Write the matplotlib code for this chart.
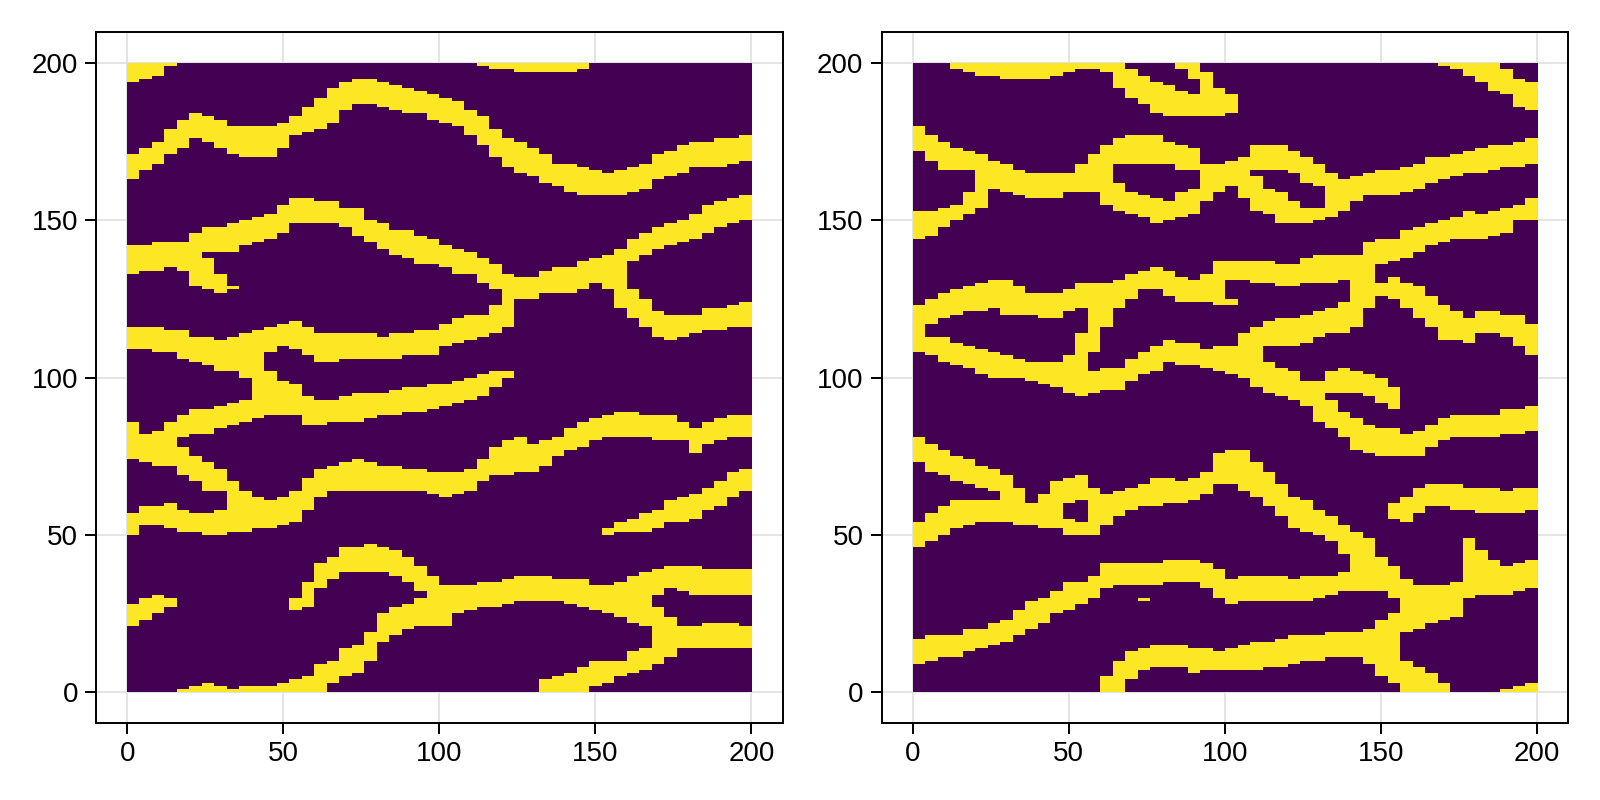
import numpy as np
import matplotlib
matplotlib.use("Agg")
import matplotlib.pyplot as plt

plt.rcParams["font.family"] = ["Liberation Sans", "DejaVu Sans"]

# =========================
# DATA
# yellow runs, one (top, bottom) per 4-wide column
# first number of each entry is the x of the first column
# =========================

tick_values = [0, 50, 100, 150, 200]
col_width = 4
n_rows = 200

left_corner = (0, [(200,194),(200,195),(200,196),(200,199)])
left_upper = (0, [(171,163),(173,166),(175,168),(179,171),(182,173),(184,176),(183,175),(182,173),(180,171),(180,170),(180,170),(180,170),(181,173),(183,177),(186,178),(189,179),(192,181),(194,185),(195,187),(195,187),(194,186),(193,185),(192,184),(191,184),(190,182),(189,181),(188,180),(185,177),(183,174),(179,170),(176,167),(175,165),(173,164),(171,162),(168,161),(168,159),(167,158),(166,158),(165,158),(166,158),(167,159),(168,160),(171,163),(172,164),(174,165),(175,167),(175,167),(176,167),(176,168),(177,169)])
left_top_edge = (112, [(200,199),(200,198),(200,198),(200,197),(200,197),(200,197),(200,197),(200,197),(200,198)])
left_mid = (0, [(142,133),(142,134),(143,134),(143,135),(143,134),(146,129),(148,140),(148,140),(149,140),(150,142),(151,143),(152,144),(155,146),(157,149),(157,149),(156,149),(156,149),(154,148),(154,145),(150,143),(149,141),(147,139),(147,138),(145,136),(144,136),(142,135),(141,133),(140,133),(138,130),(136,128),(133,125),(132,125),(132,125),(134,127),(135,127),(135,127),(137,128),(138,130),(139,128),(141,122),(144,137),(146,139),(148,141),(149,142),(150,143),(152,144),(155,146),(156,148),(157,149),(158,150)])
left_mid_spur = (24, [(138,128),(133,127),(129,128)])
left_mid_branch = (160, [(128,119),(125,116),(121,113),(120,112),(120,113),(120,114),(122,115),(122,115),(123,116),(124,116)])
left_low = (0, [(116,109),(116,109),(116,108),(115,108),(115,106),(113,105),(113,104),(112,102),(113,102),(114,100),(115,95),(116,108),(117,110),(118,109),(116,107),(114,105),(114,105),(114,106),(114,106),(114,106),(113,106),(114,106),(114,107),(115,107),(115,107),(117,110),(119,111),(120,112),(120,113),(123,114),(128,116)])
left_diag = (44, [(102,95),(99,95),(98,96)])
left_wedge = (0, [(86,74),(82,73),(83,72),(86,72)])
left_90 = (16, [(88,81),(90,82),(90,82),(91,84),(92,85),(93,86),(95,87),(95,88),(97,88),(96,88),(94,85),(93,85),(93,86),(94,86),(95,86),(95,87),(95,88),(96,88),(97,89),(97,89),(98,90),(98,91),(99,92),(100,93),(101,94),(102,97),(102,100)])
left_70 = (16, [(78,69),(75,67),(73,64),(71,64)])
left_55 = (0, [(57,50),(59,53),(59,53),(60,52),(58,51),(57,51),(57,50),(58,50),(67,51),(64,51),(62,52),(61,52),(62,53),(64,54),(68,58),(71,62),(72,64),(73,64),(74,64),(73,64),(72,64),(72,64),(71,64),(71,64),(70,63),(70,62),(70,63),(71,64),(74,67),(78,69),(80,69),(81,70),(79,70),(80,72),(81,75),(84,77),(86,78),(87,80),(88,81),(89,81),(89,81),(88,81),(88,80),(88,80),(86,80),(84,76),(86,79),(87,80),(88,81),(88,81)])
left_wedge_right = (152, [(52,50),(54,51),(55,51),(57,51),(58,52),(61,54),(62,54),(63,55),(65,58),(67,59),(70,62),(71,64)])
left_small = (0, [(28,21),(30,23),(31,25),(30,27)])
left_arch = (52, [(30,26),(35,27),(41,33),(43,36),(46,38),(46,38),(47,38),(46,38),(45,37),(43,35),(40,32)])
left_bottom = (16, [(1,0),(2,0),(3,0),(2,0),(1,0),(2,0),(2,0),(2,0),(3,0),(4,0),(5,0),(9,0),(10,3),(14,5),(15,6),(19,10),(25,16),(27,18),(28,20),(30,21)])
left_30 = (96, [(37,21),(34,21),(34,25),(34,26),(35,27),(35,27),(36,28),(37,29),(37,29),(37,29),(36,29),(36,28),(36,27),(34,26),(34,25),(35,24),(37,22),(38,21),(39,31),(40,33),(40,32),(40,31),(39,31),(39,31),(39,31),(39,31)])
left_floor = (132, [(4,0),(5,0),(6,0),(8,0),(10,2),(10,3),(10,5),(13,6),(14,7),(27,9),(24,11),(21,14),(21,14),(22,14),(22,14),(22,14),(21,14)])

right_top = (12, [(200,198),(200,197),(200,196),(200,196),(200,195),(200,195),(200,195),(200,195),(200,196),(200,197),(200,198),(200,198),(200,197),(200,192),(198,189),(196,187),(194,184),(193,183),(191,183),(190,183),(197,183),(192,183),(190,184)])
right_top_inner = (84, [(200,198),(200,195)])
right_top_strip = (168, [(200,199),(200,198),(200,196),(200,194),(200,191),(198,190),(195,186),(194,185)])
right_175 = (0, [(180,172),(177,169),(175,166),(173,166),(172,166),(171,154),(169,160),(168,159),(166,158),(165,157),(165,157),(165,157),(165,159),(168,159),(171,159),(174,155),(176,168),(177,168),(177,168),(177,168),(175,168),(174,166),(173,166),(168,156),(168,159),(169,161),(170,157),(174,166),(174,166),(174,166),(172,165),(170,162),(168,161),(165,151),(163,153),(164,156),(165,158),(166,158),(166,158),(167,159),(168,160),(170,162),(170,163),(171,164),(172,165),(173,165),(174,166),(174,167),(175,167),(176,168)])
right_left_arm = (0, [(153,144),(153,145),(154,148),(155,150),(159,152)])
right_lens_low = (64, [(162,153),(159,152),(158,151),(157,149),(156,150),(159,151),(160,152)])
right_lens2_low = (108, [(164,153),(160,152),(159,149),(156,149),(154,149),(154,150)])
right_130 = (0, [(123,108),(125,117),(127,119),(128,120),(129,121),(130,121),(131,122),(131,120),(129,120),(127,120),(127,119),(127,119),(128,121),(130,122),(130,108),(130,116),(131,122),(133,125),(134,128),(135,128),(134,126),(132,124),(131,124),(133,124),(137,123),(137,131),(137,131),(137,130),(137,130),(136,129),(136,129),(138,130),(139,130),(139,130),(139,131),(139,116),(143,122)])
right_hook = (100, [(125,123)])
right_upper_right = (148, [(144,136),(144,137),(147,138),(148,140),(149,142),(150,143),(151,144),(153,144),(152,144),(153,145),(154,146),(155,150),(157,150)])
right_110 = (4, [(113,107),(113,105),(111,104),(110,103),(109,101),(108,100),(107,100),(106,100),(105,99),(105,98),(105,97),(107,95),(114,94),(102,95),(103,96),(103,96),(106,99),(108,101),(110,102),(112,105),(111,104),(111,104),(109,103),(110,102),(110,101),(114,100),(116,97),(105,95),(103,94),(102,93),(99,91),(99,86),(102,95),(103,95),(102,95),(101,94),(100,92),(97,90)])
right_t_band = (112, [(118,110),(119,110),(119,110),(120,111),(121,113),(122,114),(124,114)])
right_lower_l = (132, [(93,84),(89,81),(87,77),(85,76),(84,75),(84,75),(82,75),(83,75),(85,78),(87,80),(88,81),(88,81),(88,81),(88,81),(90,82),(90,82),(91,83),(92,84)])
right_branch = (148, [(130,126),(132,125),(130,122),(129,119),(126,116),(123,112),(121,112),(119,111),(121,114),(121,114),(120,113),(120,110),(117,107)])
right_upper_arm = (0, [(81,73),(79,70),(77,69),(75,67),(74,66),(72,65),(71,64)])
right_55 = (0, [(54,46),(57,48),(59,50),(61,52),(61,53),(61,54),(61,54),(69,54),(65,53),(60,53),(63,52),(67,52),(68,60),(69,61),(65,50),(63,53),(64,56),(65,58),(66,59),(68,59),(68,60),(67,60),(68,61),(70,63),(76,66),(77,66),(77,64),(73,62),(70,59),(66,56),(62,52),(61,51),(58,50),(56,48),(53,44),(51,40),(49,32),(43,32),(40,30),(36,19),(34,20),(34,22),(34,23),(35,24),(49,30),(45,31),(42,31),(40,31),(41,32),(42,33)])
right_55_low = (48, [(55,50),(54,50)])
right_30 = (0, [(17,9),(18,10),(18,11),(18,11),(20,13),(20,14),(22,15),(23,16),(26,18),(29,20),(30,22),(32,25),(35,26),(35,28),(37,30),(41,33),(41,34),(41,34),(41,34),(41,34),(42,35),(42,35),(42,35),(41,33),(39,30),(36,28),(37,29),(37,29),(37,29),(37,29),(36,29),(37,29),(37,30),(37,31),(38,32),(40,32)])
right_dot = (72, [(30,29)])
right_15 = (60, [(5,0),(10,0),(13,4),(14,7),(15,8),(15,8),(15,8),(14,6),(14,7),(13,7),(14,7),(15,7),(16,7),(16,8),(17,8),(18,9),(18,10),(18,10),(19,11),(19,11),(19,11),(20,9),(23,5),(25,3),(10,0),(8,0),(6,0),(3,0)])
right_60 = (152, [(60,55),(62,54),(65,57),(66,59),(66,59),(66,58),(65,58),(65,57),(65,57),(64,57),(65,57),(65,58)])
right_corner = (188, [(1,0),(2,0),(3,0)])

left_runs = [left_corner, left_upper, left_top_edge, left_mid, left_mid_spur, left_mid_branch,
             left_low, left_diag, left_wedge, left_90, left_70, left_55, left_wedge_right,
             left_small, left_arch, left_bottom, left_30, left_floor]
right_runs = [right_top, right_top_inner, right_top_strip, right_175, right_left_arm,
              right_lens_low, right_lens2_low, right_130, right_hook, right_upper_right,
              right_110, right_t_band, right_lower_l, right_branch, right_upper_arm,
              right_55, right_55_low, right_30, right_dot, right_15, right_60, right_corner]


def to_grid(runs):
    n_cols = 200 // col_width
    grid = np.zeros((n_rows, n_cols))
    for first_x, pairs in runs:
        for i, (top, bottom) in enumerate(pairs):
            col = first_x // col_width + i
            if col < n_cols:
                grid[bottom:top, col] = 1
    return grid


# =========================
# Plot
# =========================

fig = plt.figure(figsize=(16, 8), dpi=100)

boxes = [[96/1600, 1-723/800, 686.6/1600, 691/800],
         [881.5/1600, 1-723/800, 686.6/1600, 691/800]]

for box, runs in zip(boxes, [left_runs, right_runs]):
    ax = fig.add_axes(box)
    ax.imshow(to_grid(runs), origin="lower", extent=(0, 200, 0, 200), cmap="viridis",
              vmin=0, vmax=1, interpolation="nearest", aspect="auto", zorder=2)
    ax.set_xlim(-10, 210)
    ax.set_ylim(-10, 210)
    ax.set_xticks(tick_values)
    ax.set_yticks(tick_values)
    ax.grid(True, color="#e4e4e4", linewidth=1.4, zorder=0)
    ax.set_axisbelow(True)
    ax.tick_params(length=8, width=1.4, labelsize=20, pad=5, color="black")
    for spine in ax.spines.values():
        spine.set_linewidth(1.4)
        spine.set_zorder(5)

plt.savefig("out.png", dpi=100)
